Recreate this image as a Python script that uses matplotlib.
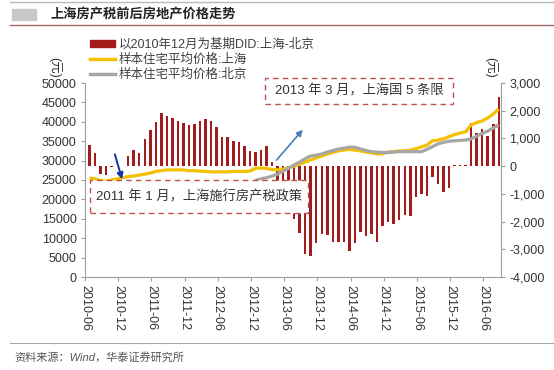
import numpy as np
import matplotlib.pyplot as plt
from matplotlib.patches import Rectangle, Patch
from matplotlib.lines import Line2D
from matplotlib.ticker import FuncFormatter

plt.rcParams['font.family'] = ['Liberation Sans', 'Noto Sans CJK SC']

# monthly data 2010-06 .. 2016-08
did_sh_bj = [760, 460, -280, -330, -40, 0, 0, 363, 580, 460,
             968, 1307, 1609, 1912, 1815, 1730, 1633, 1540, 1490, 1512,
             1633, 1715, 1645, 1400, 1040, 1040, 900, 860, 726, 545,
             520, 580, 738, 157, -800, -1200, -1500, -1900, -2400, -3170,
             -3250, -2780, -2440, -2500, -2720, -2740, -2740, -3073, -2783, -2370,
             -2505, -2450, -2722, -2142, -2020, -2105, -1960, -1779, -1815, -1113,
             -992, -1077, -387, -629, -932, -774, 30, 30, 30, 1573,
             1210, 1331, 1089, 1513, 2493]

sh_price = [25500, 25300, 24900, 24700, 25000, 25300, 25600, 25900, 26000, 26300,
            26500, 26800, 27200, 27400, 27600, 27600, 27600, 27600, 27400, 27400,
            27300, 27200, 27100, 27100, 27100, 27100, 27200, 27200, 27200, 27300,
            28000, 28100, 28000, 27700, 27600, 27800, 28100, 28600, 29100, 29600,
            30200, 30700, 31200, 31700, 32100, 32500, 32700, 32900, 32700, 32500,
            32200, 32000, 31700, 31800, 32200, 32300, 32500, 32500, 32700, 33100,
            33500, 34000, 35100, 35300, 35600, 36200, 36700, 37100, 37400, 39200,
            39800, 40200, 41000, 42000, 43300]

# Beijing series starts 2012-12
bj_start = 30
bj_price = [24900, 25300, 25600, 26000, 26500, 27300, 28000, 28900, 29600, 30500,
            31200, 31400, 31700, 32200, 32600, 33000, 33200, 33500, 33400, 33000,
            32600, 32300, 32200, 32100, 32100, 32200, 32300, 32300, 32300, 32300,
            32300, 32900, 33600, 34300, 34700, 35000, 35100, 35200, 35300, 35600,
            36300, 37000, 37600, 38400, 39200]

tick_labels = ['2010-06', '2010-12', '2011-06', '2011-12', '2012-06', '2012-12',
               '2013-06', '2013-12', '2014-06', '2014-12', '2015-06', '2015-12', '2016-06']

legend_labels = ['以2010年12月为基期DID:上海-北京', '样本住宅平均价格:上海', '样本住宅平均价格:北京']

RED = '#a31b1b'
GOLD = '#f5c000'
GRAY = '#a6a6a6'
AXC = '#a0a0a0'
TXT = '#333333'

x = np.arange(len(did_sh_bj))

fig = plt.figure(figsize=(5.54, 3.70), dpi=100)
ax = fig.add_axes([85/554, 1-277/370, 416/554, 194/370])
ax2 = ax.twinx()

ax2.bar(x, did_sh_bj, width=0.45, color=RED)
ax.plot(x, sh_price, color=GOLD, lw=2.3, solid_capstyle='butt')
ax.plot(x[bj_start:], bj_price, color=GRAY, lw=2.3, solid_capstyle='butt')

# lines on top of bars
ax.set_zorder(2)
ax2.set_zorder(1)
ax.patch.set_visible(False)

ax.set_xlim(-0.8, 74.4)
ax.set_ylim(0, 50000)
ax2.set_ylim(-4000, 3000)

ax.set_xticks(np.arange(0, len(x), 6) - 0.8)
ax.set_xticklabels(tick_labels, rotation=270, ha='center', va='top')
ax.set_yticks(np.arange(0, 50001, 5000))
ax2.set_yticks(np.arange(-4000, 3001, 1000))
ax2.yaxis.set_major_formatter(FuncFormatter(lambda v, _: f'{v:,.0f}'))

for a in (ax, ax2):
    a.spines['top'].set_visible(False)
    a.tick_params(direction='out', length=3, color=AXC, labelsize=9, labelcolor=TXT, pad=3)
ax.spines['right'].set_visible(False)
ax.spines['left'].set_color(AXC)
ax.spines['bottom'].set_color(AXC)
ax2.spines['left'].set_visible(False)
ax2.spines['bottom'].set_visible(False)
ax2.spines['right'].set_color(AXC)

# unit labels
fig.text(55/554, 1-67/370, '(元)', rotation=270, ha='center', va='center', fontsize=9, color=TXT)
fig.text(491/554, 1-67/370, '(元)', rotation=270, ha='center', va='center', fontsize=9, color=TXT)

# annotation boxes
box_kw = dict(transform=ax.transAxes, facecolor='white', edgecolor='#c0504d',
              ls=(0, (4, 3)), lw=1.0, zorder=5, clip_on=False)
ax.add_patch(Rectangle((0.011, 0.33), 0.525, 0.17, **box_kw))
ax.text(0.274, 0.415, '2011 年 1 月，上海施行房产税政策', transform=ax.transAxes,
        ha='center', va='center', fontsize=9.5, color=TXT, zorder=6)
ax.add_patch(Rectangle((0.433, 0.892), 0.452, 0.134, **box_kw))
ax.text(0.659, 0.959, '2013 年 3 月，上海国 5 条限', transform=ax.transAxes,
        ha='center', va='center', fontsize=9.5, color=TXT, zorder=6)

# arrows
ax.annotate('', xy=(6.05, 24500), xytext=(4.45, 32300), zorder=7,
            arrowprops=dict(arrowstyle='-|>', color='#1a2fa8', lw=1.4, mutation_scale=9))
ax.annotate('', xy=(38.9, 38500), xytext=(33.5, 29600), zorder=7,
            arrowprops=dict(arrowstyle='-|>', color='#4a7eb5', lw=1.2, mutation_scale=9))

# legend
handles = [Patch(color=RED), Line2D([], [], color=GOLD, lw=2.5), Line2D([], [], color=GRAY, lw=2.5)]
fig.legend(handles, legend_labels, loc='upper left', bbox_to_anchor=(90/554, 1-39/370),
           frameon=False, fontsize=9, labelcolor='#404040', handlelength=2.0, handleheight=0.5,
           handletextpad=0.3, labelspacing=0.22, borderpad=0, borderaxespad=0)

# header and footer
fig.add_artist(Line2D([10/554, 1], [1-1.5/370]*2, color='#b8b8b8', lw=1))
fig.add_artist(Rectangle((12/554, 1-20/370), 24/554, 11/370, color='#c8c8c8', transform=fig.transFigure))
fig.text(50/554, 1-15/370, '上海房产税前后房地产价格走势', ha='left', va='center',
         fontsize=9.5, fontweight='bold', color='#222222')
fig.add_artist(Line2D([10/554, 1], [1-25/370]*2, color='#9a6a6a', lw=1))
fig.add_artist(Line2D([10/554, 1], [1-343/370]*2, color='#a8a8a8', lw=0.8))
fig.text(14/554, 1-357/370, '资料来源：Wind，华泰证券研究所', ha='left', va='center',
         fontsize=8, style='italic', color='#555555')

fig.savefig('out.png', dpi=100)
